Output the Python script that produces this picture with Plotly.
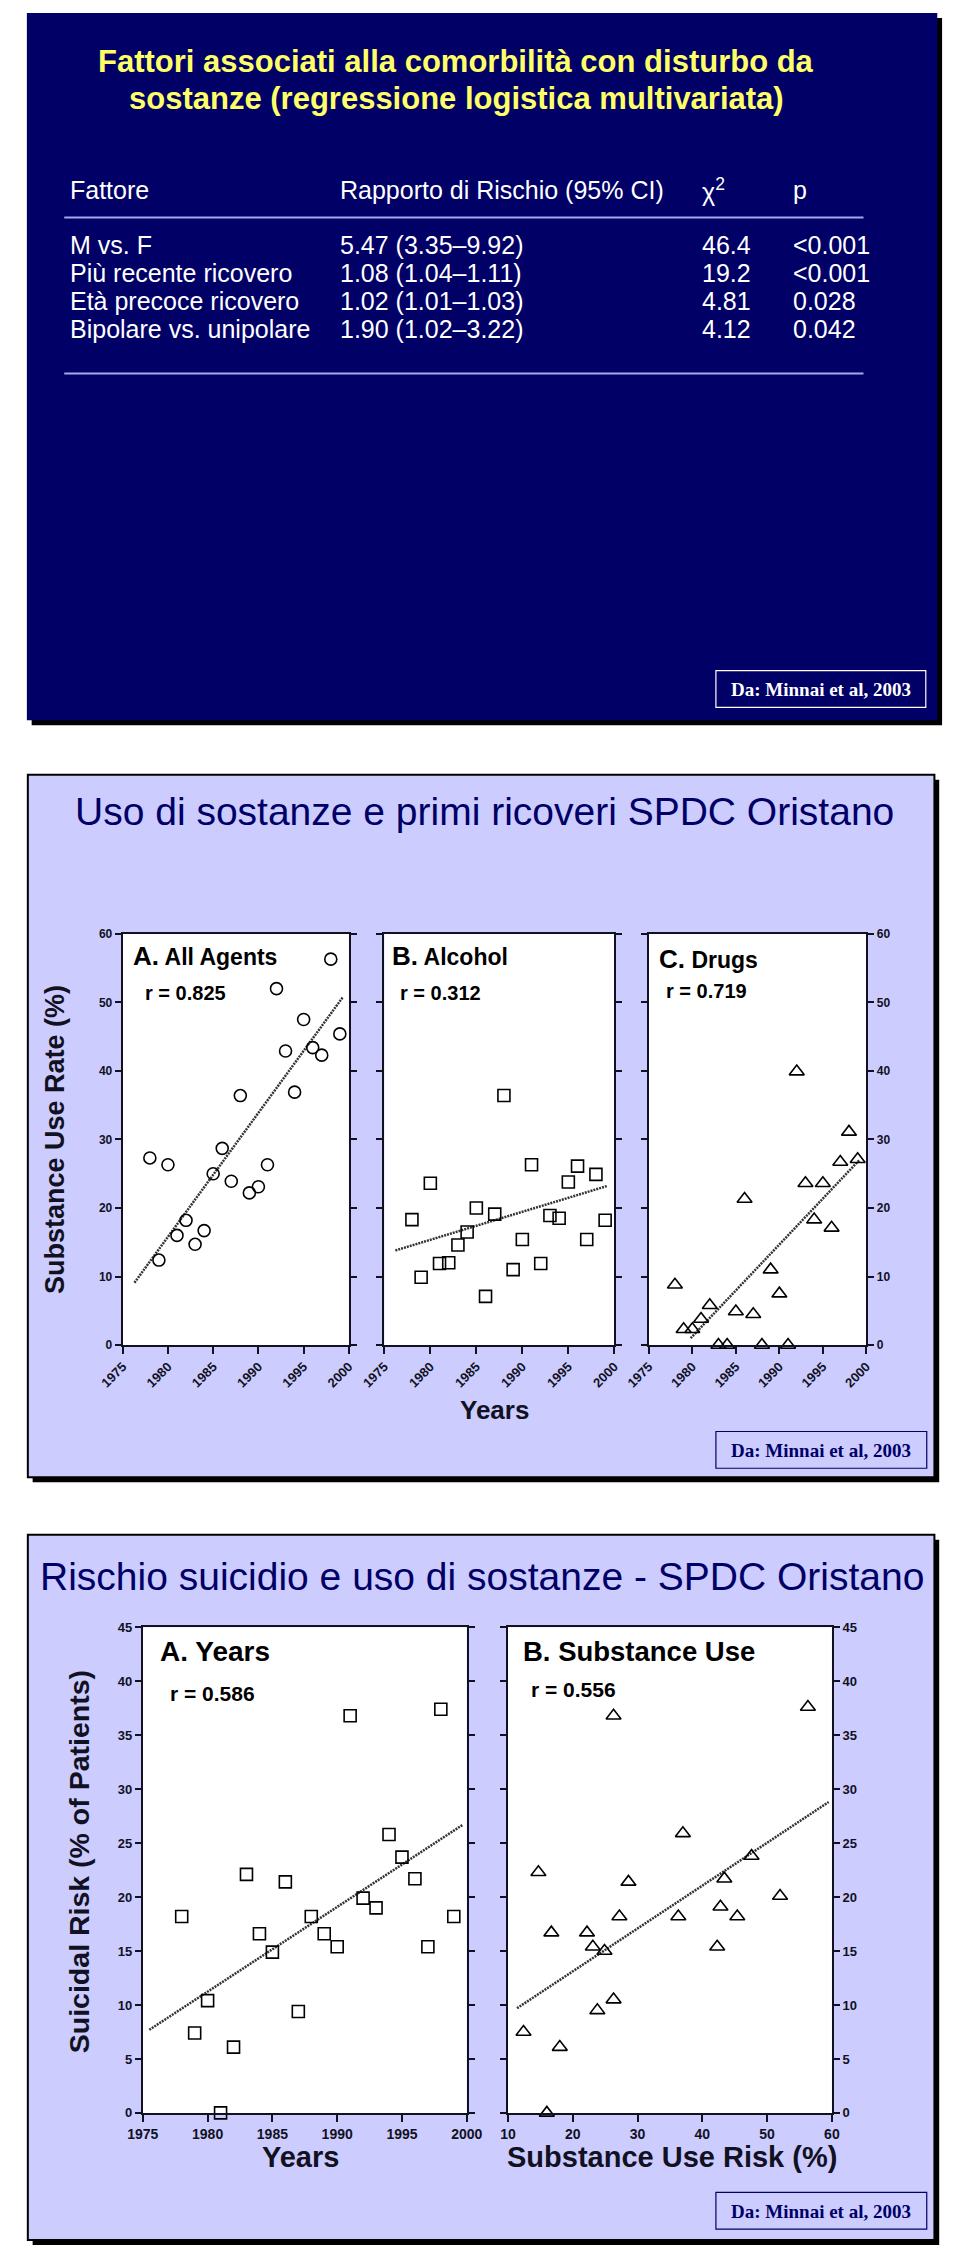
import plotly.graph_objects as go

W, H = 960, 2260

# ---------------- DATA ----------------
table_header = ["Fattore", "Rapporto di Rischio (95% CI)", "χ<sup>2</sup>", "p"]
factors = ["M vs. F", "Più recente ricovero", "Età precoce ricovero", "Bipolare vs. unipolare"]
risk_ratio = ["5.47 (3.35–9.92)", "1.08 (1.04–1.11)", "1.02 (1.01–1.03)", "1.90 (1.02–3.22)"]
chi2 = ["46.4", "19.2", "4.81", "4.12"]
p_values = ["<0.001", "<0.001", "0.028", "0.042"]

years = [1978, 1979, 1980, 1981, 1982, 1983, 1984, 1985, 1986, 1987, 1988,
         1989, 1990, 1991, 1992, 1993, 1994, 1995, 1996, 1997, 1998, 1999]
all_agents = [27.3, 12.4, 26.3, 16.0, 18.2, 14.7, 16.7, 25.0, 28.7, 23.9, 36.4,
              22.2, 23.1, 26.3, 52.0, 42.9, 36.9, 47.5, 43.4, 42.3, 56.3, 45.4]
alcohol = [18.3, 9.9, 23.6, 11.9, 12.0, 14.6, 16.5, 20.0, 7.1, 19.1, 36.4,
           11.0, 15.4, 26.3, 11.9, 18.9, 18.5, 23.8, 26.1, 15.4, 24.9, 18.2]
drugs = [8.8, 2.3, 2.3, 3.8, 5.8, 0.0, 0.0, 4.9, 21.3, 4.5, 0.0,
         11.0, 7.5, 0.0, 39.9, 23.6, 18.3, 23.6, 17.1, 26.7, 31.1, 27.1]

suicidal_years = [18.2, 7.4, 10.4, 0.0, 6.1, 22.1, 16.6, 14.9, 21.4, 9.4, 18.2,
                  16.6, 15.4, 36.8, 19.9, 19.0, 25.8, 23.7, 21.7, 15.4, 37.4, 18.2]
substance_risk = [12.4, 14.7, 16.0, 16.7, 18.0, 22.2, 23.1, 23.8, 24.9, 26.3, 26.3,
                  27.2, 28.6, 36.3, 37.0, 42.3, 42.8, 43.4, 45.4, 47.6, 52.0, 56.3]
suicidal_subst = [7.5, 22.3, 0.0, 16.7, 6.1, 16.7, 15.4, 9.5, 15.0, 36.8, 10.5,
                  18.2, 21.4, 18.2, 25.9, 15.4, 19.1, 21.7, 18.2, 23.8, 20.1, 37.6]

# fitted regression lines (end points)
trend_all_x, trend_all_y = [1976.3, 1999.3], [9.1, 50.7]
trend_alc_x, trend_alc_y = [1976.2, 1999.2], [13.8, 23.2]
trend_drg_x, trend_drg_y = [1979.8, 1999.2], [1.0, 27.0]
trend_sy_x, trend_sy_y = [1975.5, 1999.7], [7.7, 26.7]
trend_ss_x, trend_ss_y = [11.4, 59.5], [9.7, 28.8]

r_values = ["r = 0.825", "r = 0.312", "r = 0.719", "r = 0.586", "r = 0.556"]

# ---------------- helpers ----------------
SANS = "Liberation Sans, Arial, sans-serif"
SERIF = "Liberation Serif, Times New Roman, serif"
NAVY = "#000066"
LAV = "#CCCCFF"
DARK = "#111122"


def px(x):
    return x / W


def py(y):
    return 1 - y / H


def dom_x(a, b):
    return [px(a), px(b)]


def dom_y(top, bottom):
    return [py(bottom), py(top)]


shapes = []
annotations = []


def rect(x0, y0, x1, y1, fill=None, line_color=None, lw=0, layer="below"):
    shapes.append(dict(type="rect", xref="paper", yref="paper",
                       x0=px(x0), x1=px(x1), y0=py(y1), y1=py(y0),
                       fillcolor=fill if fill else "rgba(0,0,0,0)",
                       line=dict(color=line_color if line_color else "rgba(0,0,0,0)", width=lw),
                       layer=layer))


def hline(x0, x1, y, color, lw):
    shapes.append(dict(type="line", xref="paper", yref="paper",
                       x0=px(x0), x1=px(x1), y0=py(y), y1=py(y),
                       line=dict(color=color, width=lw)))


def text(x, y, s, size, color, bold=False, xanchor="left", family=SANS, angle=0):
    annotations.append(dict(x=px(x), y=py(y), xref="paper", yref="paper", text=s,
                            showarrow=False, xanchor=xanchor, yanchor="middle",
                            textangle=angle,
                            font=dict(family=family, size=size, color=color,
                                      weight="bold" if bold else "normal")))


# ---------------- panel 1 (navy table) ----------------
rect(8, 11, 958, 723, fill="#000000")
rect(3, 6, 953, 718, fill=NAVY)
text(451, 55, "Fattori associati alla comorbilità con disturbo da", 31, "#FFFF66", bold=True, xanchor="center")
text(451, 92, "sostanze (regressione logistica multivariata)", 31, "#FFFF66", bold=True, xanchor="center")
col_x = [46, 328, 705, 800]
for cx, h in zip(col_x, table_header):
    text(cx, 184, h, 25, "white")
hline(42, 876, 212, "#A3A8F0", 2)
row_y = [240, 268, 296, 324]
for i, ry in enumerate(row_y):
    for cx, col in zip(col_x, [factors, risk_ratio, chi2, p_values]):
        text(cx, ry, col[i], 25, "white")
hline(42, 876, 369, "#A3A8F0", 2)
rect(722, 668, 941, 705, line_color="white", lw=1.2, layer="above")
text(831.5, 687, "<b>Da: Minnai et al, 2003</b>", 19, "white", xanchor="center", family=SERIF)

# ---------------- panel 2 ----------------
rect(9, 778, 955, 1485, fill="#000000")
rect(4, 773, 950, 1480, fill=LAV, line_color="#000000", lw=2)
text(481, 810, "Uso di sostanze e primi ricoveri SPDC Oristano", 39, NAVY, xanchor="center")
plot2 = [(103, 339), (376, 616), (652, 879)]
for a, b in plot2:
    rect(a, 933, b, 1347, fill="white")
text(33, 1140, "Substance Use Rate (%)", 27, DARK, bold=True, xanchor="center", angle=-90)
text(491, 1412, "Years", 26, DARK, bold=True, xanchor="center")
rect(722, 1434, 942, 1471, line_color=NAVY, lw=1.2, layer="above")
text(832, 1453, "<b>Da: Minnai et al, 2003</b>", 19, NAVY, xanchor="center", family=SERIF)

text(112, 955, "<span style='font-size:26px'>A.</span> All Agents", 23, "#000000", bold=True)
text(124, 993, r_values[0], 20, "#000000", bold=True)
text(382, 955, "<span style='font-size:26px'>B.</span> Alcohol", 23, "#000000", bold=True)
text(390, 993, r_values[1], 20, "#000000", bold=True)
text(660, 958, "<span style='font-size:26px'>C.</span> Drugs", 23, "#000000", bold=True)
text(668, 991, r_values[2], 20, "#000000", bold=True)

# ---------------- panel 3 ----------------
rect(9, 1543, 955, 2253, fill="#000000")
rect(4, 1538, 950, 2248, fill=LAV, line_color="#000000", lw=2)
text(478, 1580, "Rischio suicidio e uso di sostanze - SPDC Oristano", 39, NAVY, xanchor="center")
plot3 = [(124, 462), (505, 843)]
for a, b in plot3:
    rect(a, 1631, b, 2120, fill="white")
text(57, 1867, "Suicidal Risk (% of Patients)", 28.5, DARK, bold=True, xanchor="center", angle=-90)
text(289, 2164, "Years", 29, DARK, bold=True, xanchor="center")
text(676, 2164, "Substance Use Risk (%)", 29, DARK, bold=True, xanchor="center")
rect(722, 2200, 942, 2237, line_color=NAVY, lw=1.2, layer="above")
text(832, 2219, "<b>Da: Minnai et al, 2003</b>", 19, NAVY, xanchor="center", family=SERIF)

text(140, 1655, "A. Years", 28, "#000000", bold=True)
text(150, 1698, r_values[3], 21, "#000000", bold=True)
text(519, 1655, "B. Substance Use", 27.5, "#000000", bold=True)
text(527, 1694, r_values[4], 21, "#000000", bold=True)

# ---------------- axes ----------------
def xaxis(dom, anchor, rng, dtick, angle, size):
    return dict(domain=dom, anchor=anchor, range=rng, tick0=rng[0], dtick=dtick,
                ticks="outside", ticklen=7, tickwidth=1.5, tickcolor=DARK,
                showline=True, linewidth=2, linecolor=DARK, mirror=True,
                showgrid=False, zeroline=False, tickangle=angle,
                tickfont=dict(family=SANS, size=size, color=DARK, weight="bold"),
                fixedrange=True)


def yaxis(dom, anchor, rng, dtick, side, labels, size):
    return dict(domain=dom, anchor=anchor, range=rng, tick0=0, dtick=dtick, side=side,
                ticks="outside", ticklen=6, tickwidth=1.5, tickcolor=DARK,
                showline=True, linewidth=2, linecolor=DARK, mirror="ticks",
                showgrid=False, zeroline=False, showticklabels=labels,
                tickfont=dict(family=SANS, size=size, color=DARK, weight="bold"),
                fixedrange=True)


layout_axes = {}
ydom2 = dom_y(933, 1347)
ydom3 = dom_y(1631, 2120)
layout_axes["xaxis"] = xaxis(dom_x(*plot2[0]), "y", [1975, 2000], 5, -45, 13)
layout_axes["yaxis"] = yaxis(ydom2, "x", [0, 60], 10, "left", True, 12)
layout_axes["xaxis2"] = xaxis(dom_x(*plot2[1]), "y2", [1975, 2000], 5, -45, 13)
layout_axes["yaxis2"] = yaxis(ydom2, "x2", [0, 60], 10, "left", False, 12)
layout_axes["xaxis3"] = xaxis(dom_x(*plot2[2]), "y3", [1975, 2000], 5, -45, 13)
layout_axes["yaxis3"] = yaxis(ydom2, "x3", [0, 60], 10, "right", True, 12)
layout_axes["xaxis4"] = xaxis(dom_x(*plot3[0]), "y4", [1975, 2000], 5, 0, 14)
layout_axes["yaxis4"] = yaxis(ydom3, "x4", [0, 45], 5, "left", True, 13)
layout_axes["xaxis5"] = xaxis(dom_x(*plot3[1]), "y5", [10, 60], 10, 0, 14)
layout_axes["yaxis5"] = yaxis(ydom3, "x5", [0, 45], 5, "right", True, 13)

# ---------------- traces ----------------
fig = go.Figure()


def trend(x, y, xa, ya):
    fig.add_trace(go.Scatter(x=x, y=y, xaxis=xa, yaxis=ya, mode="lines",
                             line=dict(color="#333333", width=2.5, dash="2px,1px"),
                             hoverinfo="skip", showlegend=False))


def pts(x, y, xa, ya, symbol, size):
    fig.add_trace(go.Scatter(x=x, y=y, xaxis=xa, yaxis=ya, mode="markers",
                             marker=dict(symbol=symbol, size=size, color="#000000",
                                         line=dict(width=1.6, color="#000000")),
                             cliponaxis=False, showlegend=False))


trend(trend_all_x, trend_all_y, "x", "y")
pts(years, all_agents, "x", "y", "circle-open", 12)
trend(trend_alc_x, trend_alc_y, "x2", "y2")
pts(years, alcohol, "x2", "y2", "square-open", 12)
trend(trend_drg_x, trend_drg_y, "x3", "y3")
pts(years, drugs, "x3", "y3", "triangle-up-open", 13)
trend(trend_sy_x, trend_sy_y, "x4", "y4")
pts(years, suicidal_years, "x4", "y4", "square-open", 12)
trend(trend_ss_x, trend_ss_y, "x5", "y5")
pts(substance_risk, suicidal_subst, "x5", "y5", "triangle-up-open", 13)

fig.update_layout(width=W, height=H, margin=dict(l=0, r=0, t=0, b=0),
                  paper_bgcolor="white", plot_bgcolor="rgba(0,0,0,0)",
                  showlegend=False, shapes=shapes, annotations=annotations,
                  **layout_axes)

fig.write_html("out.html", config={"displayModeBar": False})
